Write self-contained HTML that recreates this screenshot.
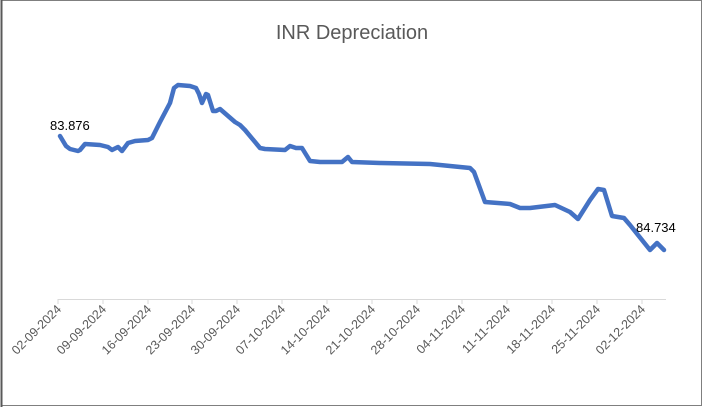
<!DOCTYPE html>
<html><head><style>
body{margin:0;background:#fff}
svg{display:block}
text{font-family:"Liberation Sans",sans-serif}
</style></head><body>
<svg width="704" height="407" viewBox="0 0 704 407">
<rect x="1.5" y="0.5" width="700" height="405" fill="#fff" stroke="#7f7f7f" stroke-width="1"/>
<line x1="1.5" y1="0" x2="1.5" y2="407" stroke="#595959" stroke-width="2"/>
<text x="352" y="39" text-anchor="middle" font-size="20" fill="#595959">INR Depreciation</text>
<line x1="58" y1="299.5" x2="666" y2="299.5" stroke="#d9d9d9" stroke-width="1"/>
<g stroke="#d9d9d9" stroke-width="1">
<line x1="58" y1="299" x2="58" y2="304"/><line x1="103" y1="299" x2="103" y2="304"/><line x1="148" y1="299" x2="148" y2="304"/><line x1="192" y1="299" x2="192" y2="304"/><line x1="237" y1="299" x2="237" y2="304"/><line x1="282" y1="299" x2="282" y2="304"/><line x1="327" y1="299" x2="327" y2="304"/><line x1="372" y1="299" x2="372" y2="304"/><line x1="417" y1="299" x2="417" y2="304"/><line x1="462" y1="299" x2="462" y2="304"/><line x1="507" y1="299" x2="507" y2="304"/><line x1="552" y1="299" x2="552" y2="304"/><line x1="597" y1="299" x2="597" y2="304"/><line x1="642" y1="299" x2="642" y2="304"/>
</g>
<g font-size="12.5" fill="#595959" text-anchor="end">
<text transform="translate(62,310) rotate(-45)">02-09-2024</text>
<text transform="translate(107,310) rotate(-45)">09-09-2024</text>
<text transform="translate(152,310) rotate(-45)">16-09-2024</text>
<text transform="translate(196,310) rotate(-45)">23-09-2024</text>
<text transform="translate(241,310) rotate(-45)">30-09-2024</text>
<text transform="translate(286,310) rotate(-45)">07-10-2024</text>
<text transform="translate(331,310) rotate(-45)">14-10-2024</text>
<text transform="translate(376,310) rotate(-45)">21-10-2024</text>
<text transform="translate(421,310) rotate(-45)">28-10-2024</text>
<text transform="translate(466,310) rotate(-45)">04-11-2024</text>
<text transform="translate(511,310) rotate(-45)">11-11-2024</text>
<text transform="translate(556,310) rotate(-45)">18-11-2024</text>
<text transform="translate(601,310) rotate(-45)">25-11-2024</text>
<text transform="translate(646,310) rotate(-45)">02-12-2024</text>
</g>
<polyline fill="none" stroke="#4472c4" stroke-width="4.5" stroke-linejoin="round" stroke-linecap="round" points="60,136 66,146 70,149 78,151 80,150 85,144 100,145 108,147 112,150 118,147 122,151 128,143 135,141 148,140 152,138 160,122 170,103 174,88 178,85 190,86 196,88 199,94 202,103 206,94 208,95 213,111 216,111 220,109 235,122 240,125 245,130 260,148 265,149 285,150 290,146 296,148 302,148 310,161 320,162 342,162 348,157 352,162 380,163 430,164 470,168 474,172 485,202 510,204 520,208 530,208 555,205 570,212 578,219 590,200 598,189 604,190 612,216 624,218 630,225 650,250 657,243 664,250"/>
<text x="50" y="130" font-size="13" fill="#000">83.876</text>
<text x="636" y="232" font-size="13" fill="#000">84.734</text>
</svg>
</body></html>
